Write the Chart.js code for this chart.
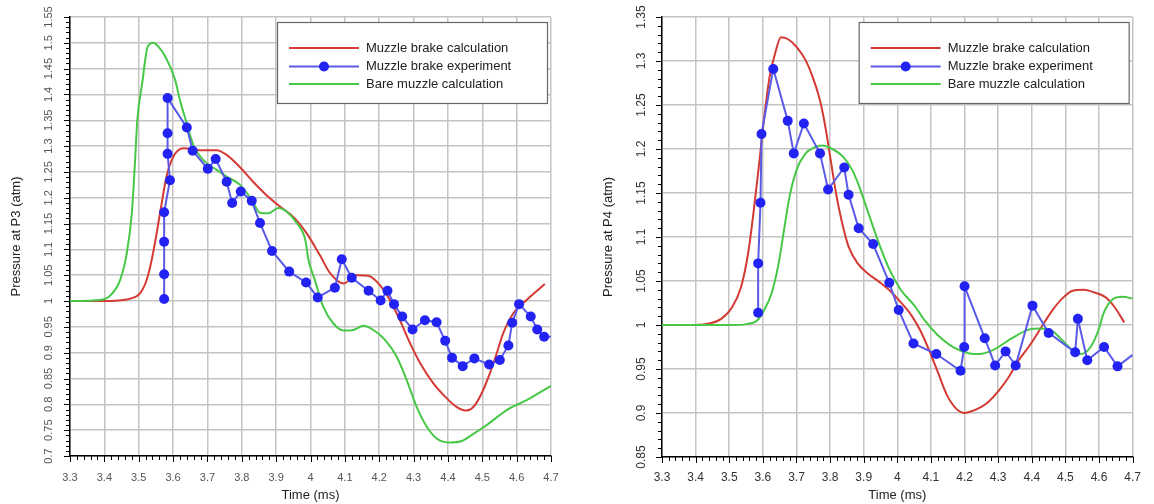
<!DOCTYPE html>
<html>
<head>
<meta charset="utf-8">
<script src="https://cdn.jsdelivr.net/npm/chart.js@4.4.1/dist/chart.umd.min.js"></script>
<style>
html, body { margin: 0; padding: 0; background: #fff; }
.panel { position: absolute; top: 0; width: 577px; height: 504px; }
#p3box { left: 0; }
#p4box { left: 577px; }
</style>
</head>
<body>
<div class="panel" id="p3box"><canvas id="p3"></canvas></div>
<div class="panel" id="p4box"><canvas id="p4"></canvas></div>
<script>
// series labels
var seriesNames = ["Muzzle brake calculation", "Muzzle brake experiment", "Bare muzzle calculation"];

// P3 - muzzle brake calculation
var p3CalcT = [3.30, 3.40, 3.44, 3.465, 3.49, 3.505, 3.52, 3.533, 3.548, 3.562, 3.581, 3.601, 3.63, 3.678, 3.727, 3.756, 3.795, 3.833, 3.872, 3.911, 3.95, 3.989, 4.028, 4.057, 4.096, 4.134, 4.168, 4.202, 4.231, 4.26, 4.29, 4.319, 4.357, 4.396, 4.425, 4.45, 4.474, 4.498, 4.522, 4.542, 4.561, 4.59, 4.629, 4.682];
var p3CalcP = [1.000, 1.000, 1.001, 1.003, 1.008, 1.016, 1.035, 1.065, 1.115, 1.170, 1.241, 1.280, 1.296, 1.292, 1.292, 1.283, 1.259, 1.231, 1.205, 1.183, 1.163, 1.131, 1.088, 1.054, 1.034, 1.050, 1.049, 1.031, 1.002, 0.963, 0.918, 0.880, 0.841, 0.812, 0.795, 0.788, 0.795, 0.821, 0.860, 0.899, 0.938, 0.976, 1.002, 1.033];

// P3 - muzzle brake experiment
var p3ExpT = [3.574, 3.574, 3.574, 3.574, 3.591, 3.584, 3.584, 3.584, 3.640, 3.657, 3.701, 3.724, 3.756, 3.772, 3.797, 3.829, 3.853, 3.888, 3.938, 3.987, 4.021, 4.071, 4.091, 4.120, 4.169, 4.204, 4.224, 4.243, 4.267, 4.297, 4.333, 4.367, 4.392, 4.412, 4.443, 4.477, 4.520, 4.551, 4.576, 4.587, 4.607, 4.641, 4.660, 4.680, 4.700];
var p3ExpP = [1.004, 1.052, 1.115, 1.172, 1.234, 1.285, 1.325, 1.393, 1.336, 1.291, 1.256, 1.275, 1.231, 1.190, 1.212, 1.194, 1.151, 1.097, 1.057, 1.036, 1.007, 1.026, 1.081, 1.045, 1.020, 1.001, 1.020, 0.994, 0.970, 0.945, 0.963, 0.959, 0.923, 0.890, 0.874, 0.889, 0.877, 0.886, 0.914, 0.958, 0.994, 0.970, 0.945, 0.931, 0.931];

// P3 - bare muzzle calculation
var p3BareT = [3.30, 3.387, 3.416, 3.446, 3.465, 3.48, 3.489, 3.496, 3.51, 3.526, 3.542, 3.558, 3.58, 3.606, 3.62, 3.64, 3.659, 3.688, 3.727, 3.756, 3.795, 3.829, 3.853, 3.877, 3.906, 3.931, 3.96, 3.985, 3.994, 4.013, 4.037, 4.066, 4.096, 4.125, 4.154, 4.183, 4.217, 4.251, 4.28, 4.309, 4.338, 4.367, 4.409, 4.441, 4.47, 4.513, 4.571, 4.629, 4.70];
var p3BareP = [1.000, 1.002, 1.010, 1.041, 1.092, 1.170, 1.267, 1.351, 1.421, 1.492, 1.500, 1.492, 1.470, 1.428, 1.389, 1.344, 1.302, 1.273, 1.254, 1.241, 1.225, 1.196, 1.171, 1.170, 1.180, 1.173, 1.151, 1.118, 1.080, 1.040, 0.989, 0.957, 0.943, 0.944, 0.952, 0.944, 0.925, 0.892, 0.847, 0.795, 0.757, 0.734, 0.726, 0.729, 0.741, 0.760, 0.789, 0.808, 0.836];

// P4 - muzzle brake calculation
var p4CalcT = [3.30, 3.40, 3.444, 3.476, 3.508, 3.535, 3.556, 3.572, 3.588, 3.604, 3.62, 3.636, 3.654, 3.674, 3.70, 3.727, 3.748, 3.77, 3.786, 3.802, 3.818, 3.834, 3.855, 3.882, 3.914, 3.946, 3.978, 4.010, 4.042, 4.068, 4.095, 4.122, 4.148, 4.175, 4.200, 4.228, 4.266, 4.303, 4.33, 4.361, 4.394, 4.426, 4.458, 4.49, 4.522, 4.554, 4.586, 4.618, 4.645, 4.675];
var p4CalcP = [1.000, 1.000, 1.002, 1.007, 1.020, 1.043, 1.081, 1.127, 1.180, 1.236, 1.282, 1.308, 1.327, 1.325, 1.316, 1.301, 1.282, 1.255, 1.225, 1.187, 1.149, 1.119, 1.089, 1.070, 1.058, 1.049, 1.039, 1.026, 1.011, 0.994, 0.971, 0.945, 0.920, 0.905, 0.900, 0.903, 0.911, 0.926, 0.940, 0.960, 0.977, 0.996, 1.015, 1.030, 1.039, 1.040, 1.037, 1.032, 1.021, 1.003];

// P4 - muzzle brake experiment
var p4ExpT = [3.586, 3.586, 3.593, 3.596, 3.631, 3.674, 3.692, 3.722, 3.770, 3.794, 3.842, 3.855, 3.885, 3.928, 3.976, 4.004, 4.048, 4.116, 4.188, 4.199, 4.200, 4.260, 4.291, 4.322, 4.352, 4.402, 4.450, 4.529, 4.537, 4.565, 4.615, 4.655, 4.700];
var p4ExpP = [1.014, 1.070, 1.139, 1.217, 1.291, 1.232, 1.195, 1.229, 1.195, 1.154, 1.179, 1.148, 1.110, 1.092, 1.048, 1.017, 0.979, 0.967, 0.948, 0.975, 1.044, 0.985, 0.954, 0.970, 0.954, 1.022, 0.991, 0.969, 1.007, 0.960, 0.975, 0.953, 0.966];

// P4 - bare muzzle calculation
var p4BareT = [3.30, 3.50, 3.551, 3.583, 3.604, 3.626, 3.647, 3.663, 3.679, 3.70, 3.727, 3.754, 3.775, 3.807, 3.839, 3.866, 3.887, 3.914, 3.946, 3.978, 4.010, 4.051, 4.084, 4.119, 4.170, 4.212, 4.244, 4.287, 4.341, 4.394, 4.426, 4.458, 4.49, 4.522, 4.546, 4.575, 4.60, 4.613, 4.640, 4.671, 4.70];
var p4BareP = [1.000, 1.000, 1.001, 1.005, 1.017, 1.036, 1.070, 1.108, 1.145, 1.176, 1.195, 1.202, 1.204, 1.200, 1.191, 1.176, 1.157, 1.127, 1.092, 1.062, 1.040, 1.022, 1.004, 0.989, 0.974, 0.968, 0.967, 0.972, 0.985, 0.995, 0.996, 0.994, 0.983, 0.971, 0.967, 0.975, 0.996, 1.013, 1.029, 1.032, 1.030];

// axis ranges
var timeRange = [3.3, 4.7];
var p3Range = [0.7, 1.55];
var p4Range = [0.85, 1.35];

var FONT = "'Liberation Sans', Arial, sans-serif";
var RED = "#d43a34";
var BLUE_LINE = "#5a5ae8";
var BLUE_DOT = "#2222f2";
var GREEN = "#46c846";
var GRID = "#c4c4c4";

function toPoints(xs, ys) {
    return xs.map(function(x, i) {
        return { x: x, y: ys[i] };
    });
}

function fmt(v) {
    return String(parseFloat(v.toFixed(2)));
}

// legend box and minor ticks, drawn over the plot
var extrasPlugin = {
    id: "extras",
    afterDatasetsDraw: function(chart) {
        var ctx = chart.ctx;
        var area = chart.chartArea;
        var xs = chart.scales.x;
        var ys = chart.scales.y;
        var o = chart.options.plugins.extras;

        ctx.save();
        ctx.strokeStyle = "#000";
        ctx.lineWidth = 1;
        // ticks on time axis
        var i, v, px, len;
        for (i = 0; i <= 70; i++) {
            v = timeRange[0] + i * 0.02;
            px = Math.round(xs.getPixelForValue(v)) + 0.5;
            len = i % 5 === 0 ? 6 : 4;
            ctx.beginPath();
            ctx.moveTo(px, area.bottom);
            ctx.lineTo(px, area.bottom + len);
            ctx.stroke();
        }
        // ticks on pressure axis
        var n = Math.round((ys.max - ys.min) / 0.01);
        for (i = 0; i <= n; i++) {
            v = ys.min + i * 0.01;
            px = Math.round(ys.getPixelForValue(v)) + 0.5;
            len = i % 5 === 0 ? 6 : 4;
            ctx.beginPath();
            ctx.moveTo(area.left, px);
            ctx.lineTo(area.left - len, px);
            ctx.stroke();
        }

        // legend
        var bx = area.right - o.legendRight - 270;
        var by = o.legendTop;
        ctx.fillStyle = "#fff";
        ctx.fillRect(bx, by, 270, 81);
        ctx.strokeStyle = "#666";
        ctx.lineWidth = 1.2;
        ctx.strokeRect(bx + 0.5, by + 0.5, 270, 81);
        var rows = [26, 44.5, 62];
        chart.data.datasets.forEach(function(ds, k) {
            var ry = by + rows[k];
            ctx.strokeStyle = ds.borderColor;
            ctx.lineWidth = 2;
            ctx.beginPath();
            ctx.moveTo(bx + 12, ry);
            ctx.lineTo(bx + 82, ry);
            ctx.stroke();
            if (ds.showMarker) {
                ctx.fillStyle = BLUE_DOT;
                ctx.beginPath();
                ctx.arc(bx + 47, ry, 5, 0, Math.PI * 2);
                ctx.fill();
            }
            ctx.fillStyle = "#222";
            ctx.font = "13px " + FONT;
            ctx.textBaseline = "middle";
            ctx.textAlign = "left";
            ctx.fillText(ds.label, bx + 89, ry);
        });
        ctx.restore();
    }
};

function makeChart(id, calcT, calcP, expT, expP, bareT, bareP, yRange, yTitle, s) {
    var expPts = toPoints(expT, expP);
    return new Chart(document.getElementById(id), {
        type: "scatter",
        data: {
            datasets: [
                {
                    label: seriesNames[0],
                    data: toPoints(calcT, calcP),
                    showLine: true,
                    borderColor: RED,
                    borderWidth: 2,
                    pointRadius: 0,
                    cubicInterpolationMode: "monotone",
                    order: 2
                },
                {
                    label: seriesNames[1],
                    data: expPts,
                    showLine: true,
                    showMarker: true,
                    borderColor: BLUE_LINE,
                    borderWidth: 2,
                    pointRadius: function(c) {
                        return c.dataIndex === expPts.length - 1 ? 0 : 5;
                    },
                    pointBackgroundColor: BLUE_DOT,
                    pointBorderWidth: 0,
                    order: 0
                },
                {
                    label: seriesNames[2],
                    data: toPoints(bareT, bareP),
                    showLine: true,
                    borderColor: GREEN,
                    borderWidth: 2,
                    pointRadius: 0,
                    cubicInterpolationMode: "monotone",
                    order: 1
                }
            ]
        },
        options: {
            responsive: true,
            maintainAspectRatio: false,
            animation: false,
            devicePixelRatio: 1,
            layout: { padding: { left: 0, right: s.padRight, top: 17, bottom: 0 } },
            plugins: {
                legend: { display: false },
                tooltip: { enabled: false },
                extras: { legendRight: 4, legendTop: 22 }
            },
            scales: {
                x: {
                    type: "linear",
                    min: timeRange[0],
                    max: timeRange[1],
                    afterFit: function(scale) { scale.height = s.xHeight; },
                    ticks: {
                        stepSize: 0.1,
                        callback: fmt,
                        padding: s.xPad,
                        color: s.tickColor,
                        font: { family: FONT, size: s.tickSize },
                        maxRotation: 0
                    },
                    grid: { color: GRID, lineWidth: 1.5, drawTicks: false },
                    border: { display: true, color: "#000", width: 1.5 },
                    title: {
                        display: true,
                        text: "Time (ms)",
                        color: "#222",
                        font: { family: FONT, size: 13 },
                        padding: { top: 0, bottom: 1 }
                    }
                },
                y: {
                    type: "linear",
                    min: yRange[0],
                    max: yRange[1],
                    afterFit: function(scale) { scale.width = s.yWidth; },
                    ticks: {
                        stepSize: 0.05,
                        callback: fmt,
                        autoSkip: false,
                        minRotation: 90,
                        maxRotation: 90,
                        crossAlign: "center",
                        padding: s.yPad,
                        color: s.tickColor,
                        font: { family: FONT, size: s.tickSize }
                    },
                    grid: { color: GRID, lineWidth: 1.5, drawTicks: false },
                    border: { display: true, color: "#000", width: 1.5 },
                    title: {
                        display: true,
                        text: yTitle,
                        color: "#222",
                        font: { family: FONT, size: 13 },
                        padding: { top: s.yTitlePad, bottom: 0 }
                    }
                }
            }
        },
        plugins: [extrasPlugin]
    });
}

makeChart("p3", p3CalcT, p3CalcP, p3ExpT, p3ExpP, p3BareT, p3BareP, p3Range, "Pressure at P3 (atm)",
    { padRight: 26, xHeight: 48, yWidth: 70, xPad: 15, yPad: 10, yTitlePad: 9, tickSize: 11, tickColor: "#555" });
makeChart("p4", p4CalcT, p4CalcP, p4ExpT, p4ExpP, p4BareT, p4BareP, p4Range, "Pressure at P4 (atm)",
    { padRight: 11, xHeight: 47, yWidth: 85, xPad: 13, yPad: 9, yTitlePad: 24, tickSize: 12, tickColor: "#333" });
</script>
</body>
</html>
